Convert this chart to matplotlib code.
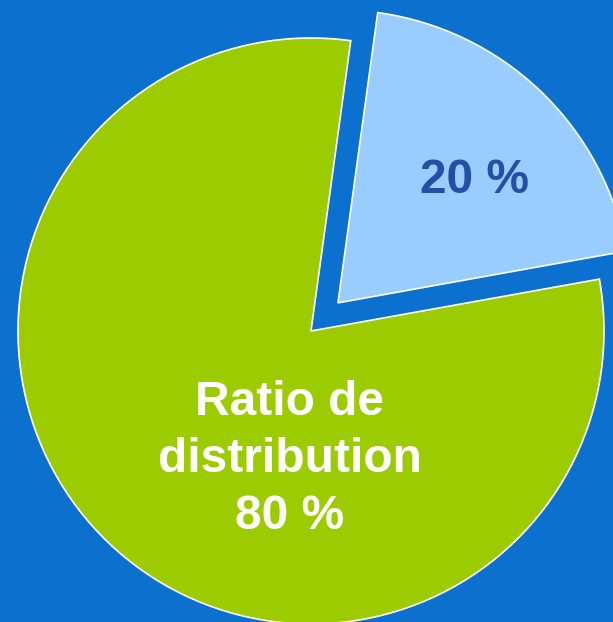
import matplotlib
matplotlib.use("Agg")
import matplotlib.pyplot as plt

labels = ["20 %", "Ratio de\ndistribution\n80 %"]
values = [20, 80]
colors = ["#99CCFF", "#9CCC00"]
explode = [0.133, 0.0]
text_colors = ["#2450A4", "#FFFFFF"]

BG = "#0C70CE"

fig = plt.figure(figsize=(6.13, 6.22), dpi=100, facecolor=BG)
ax = fig.add_axes([0, 0, 1, 1])
ax.set_facecolor(BG)

wedges, _ = ax.pie(values, colors=colors, explode=explode, startangle=10.2,
                   counterclock=True, radius=1.0,
                   wedgeprops=dict(edgecolor="white", linewidth=1.2))

ax.set_xlim(-1.0614, 1.0307)
ax.set_ylim(-0.9932, 1.1297)
ax.set_aspect("auto")
ax.axis("off")

font = dict(family=["Liberation Sans", "DejaVu Sans"], fontweight="bold", fontsize=34.5)
ax.text(0.5597, 0.515, labels[0], color=text_colors[0], ha="center", va="center", **font)
ax.text(-0.0717, -0.438, labels[1], color=text_colors[1], ha="center", va="center",
        multialignment="center", linespacing=1.34, **font)

fig.savefig("out.png", dpi=100, facecolor=BG)
